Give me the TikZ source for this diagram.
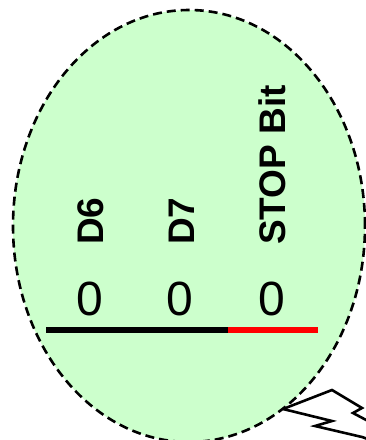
\documentclass[tikz,border=0pt]{standalone}
\usepackage{fontspec}
\setmainfont{Liberation Sans}
\usetikzlibrary{shapes.geometric}
\begin{document}
\begin{tikzpicture}[x=1pt,y=-1pt,
  bubble/.style={draw=black, line width=2.6pt, dash pattern=on 9pt off 5pt, fill={rgb,255:red,204;green,255;blue,204}},
  bitlabel/.style={rotate=90, anchor=west, inner sep=0pt, font=\fontsize{37}{40}\selectfont\bfseries},
  bitval/.style={anchor=base, inner sep=0pt, font=\fontsize{48}{52}\selectfont},
  bolt/.style={draw=black, line width=2.6pt, line join=miter}]
\useasboundingbox (0,0) rectangle (365,440);
\node[bubble, ellipse, minimum width=352pt, minimum height=432pt, inner sep=0pt] (bub) at (189,226) {};
\draw[bolt] (283,409) -- (332,390) -- (362,408) -- (353,413) -- (385,430);
\draw[bolt] (283,409) -- (332,421) -- (315,426) -- (362,437) -- (385,445);
\node[bitlabel] (d6) at (91,245) {D6};
\node[bitlabel] (d7) at (182,245) {D7};
\node[bitlabel] (stop) at (272,245) {STOP Bit};
\node[bitval] (v6) at (90,315) {0};
\node[bitval] (v7) at (180,315) {0};
\node[bitval] (vs) at (272,315) {0};
\coordinate (la) at (46,330);
\coordinate (lb) at (228,330);
\coordinate (lc) at (318,330);
\draw[line width=6.5pt, black] (la) -- (lb);
\draw[line width=6.5pt, red] (lb) -- (lc);
\end{tikzpicture}
\end{document}
